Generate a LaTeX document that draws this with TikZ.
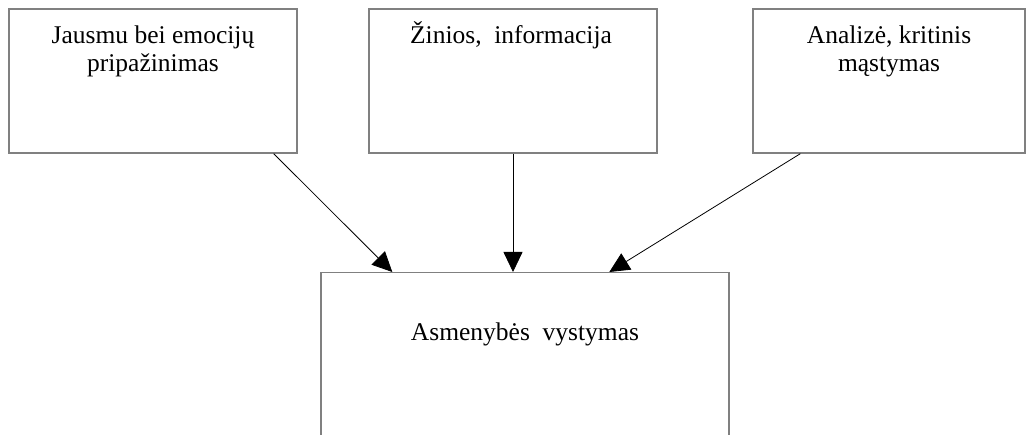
\documentclass[tikz,border=0pt]{standalone}
\usepackage{fontspec}
\setmainfont{Liberation Serif}
\usetikzlibrary{arrows.meta,calc}
\begin{document}
\begin{tikzpicture}[x=1pt,y=-1pt,
  box/.style={draw=black!50,line width=1.4pt,inner sep=0pt,rectangle},
  lbl/.style={inner sep=0pt,align=center,anchor=base,font=\fontsize{25.5}{27.5}\selectfont},
  conn/.style={draw=black,line width=0.8pt,-{Triangle[length=20pt,width=19pt]}}]
\clip (0,0) rectangle (1027,435);
\useasboundingbox (0,0) rectangle (1027,435);
\node[box,minimum width=288pt,minimum height=144pt] (L) at (153,81) {};
\node[box,minimum width=288pt,minimum height=144pt] (M) at (513,81) {};
\node[box,minimum width=272pt,minimum height=144pt] (R) at (889,81) {};
\node[box,minimum width=408pt,minimum height=190pt] (B) at (525,367.7) {};
\node[lbl] (tL) at (153,71.5) {Jausmu bei emocijų\\pripažinimas};
\node[lbl] (tM) at (511,44) {Žinios,\ \ informacija};
\node[lbl] (tR) at (889,71.5) {Analizė, kritinis\\mąstymas};
\node[lbl] (tB) at (525,340) {Asmenybės\ \ vystymas};
\draw[conn] ([xshift=-24pt]L.south east) -- ([xshift=72pt]B.north west);
\draw[conn] (M.south) -- (M.south |- B.north);
\draw[conn] ([xshift=48pt]R.south west) -- ([xshift=289pt]B.north west);
\end{tikzpicture}
\end{document}
